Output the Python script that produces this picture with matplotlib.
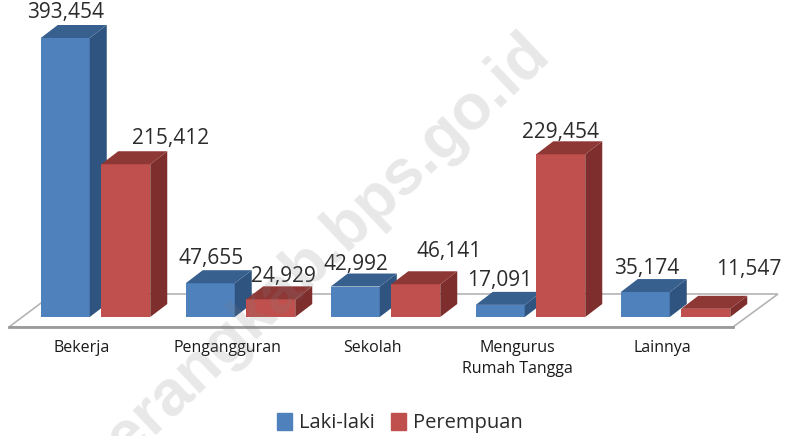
import matplotlib
matplotlib.use('Agg')
import matplotlib.pyplot as plt
from matplotlib.patches import Patch

categories = ['Bekerja', 'Pengangguran', 'Sekolah', 'Mengurus\nRumah Tangga', 'Lainnya']
laki = [393454, 47655, 42992, 17091, 35174]
perempuan = [215412, 24929, 46141, 229454, 11547]

# label shifts in pixels, the labels were moved by hand in the original
laki_shift = [(0, 25), (1, 25), (1, 22), (-1, 24), (1, 24)]
perempuan_shift = [(45, 26), (13, 23), (33, 33), (0, 22), (43, 39)]

plt.rcParams['font.family'] = ['Open Sans', 'DejaVu Sans']

PX_X = 1 / 145           # one category is 145 px wide
PX_Y = 393454 / 279      # value per pixel
W = 49 * PX_X
OFF = 30.25 * PX_X
DX = 17 * PX_X
DY = 13 * PX_Y

fig = plt.figure(figsize=(7.86, 4.36), dpi=100)
ax = fig.add_axes([0, 0, 1, 1])
ax.set_xlim(-95.5 * PX_X, (786 - 95.5) * PX_X)
ax.set_ylim(-119 * PX_Y, 317 * PX_Y)
ax.axis('off')


def fx(px):
    return (px - 95.5) * PX_X


def fy(px):
    return (317 - px) * PX_Y


# floor
ax.fill([fx(9), fx(733), fx(778), fx(53)], [fy(327), fy(327), fy(294), fy(294)],
        facecolor='white', edgecolor='#b4b4b4', lw=1.2, zorder=1)
ax.plot([fx(9), fx(733)], [fy(326.5), fy(326.5)], color='#9a9a9a', lw=2, zorder=1)


def bar3d(x, v, front, side, top, z):
    l = x - W / 2
    r = x + W / 2
    ax.bar(x, v, W, color=front, zorder=z)
    ax.fill([r, r + DX, r + DX, r], [0, DY, v + DY, v], color=side, lw=0, zorder=z)
    ax.fill([l, l + DX, r + DX, r], [v, v + DY, v + DY, v], color=top, lw=0, zorder=z)


def label(x, v, shift):
    ax.annotate(f'{v:,}', (x, v), xytext=(shift[0] * 0.72, shift[1] * 0.72),
                textcoords='offset points', ha='center', va='center',
                fontsize=15, color='#2b2b2b', zorder=10)


for i in range(len(categories)):
    bar3d(i - OFF, laki[i], '#4f81bd', '#2f5480', '#37608f', 3 + 2 * i)
    bar3d(i + OFF, perempuan[i], '#c0504d', '#7e2f2d', '#8e3836', 4 + 2 * i)
    label(i - OFF, laki[i], laki_shift[i])
    label(i + OFF, perempuan[i], perempuan_shift[i])
    ax.text(i - 13.5 * PX_X, fy(340), categories[i], ha='center', va='top',
            fontsize=11.5, color='#1a1a1a', linespacing=1.45, zorder=10)

ax.legend(handles=[Patch(color='#4f81bd', label='Laki-laki'),
                   Patch(color='#c0504d', label='Perempuan')],
          ncol=2, frameon=False, fontsize=14.5, labelcolor='#2b2b2b',
          handlelength=0.75, handleheight=0.95, handletextpad=0.35, columnspacing=0.8,
          loc='center', bbox_to_anchor=(400 / 786, 1 - 423 / 436))

# watermark
ax.text(fx(315), fy(258), 'serangkab.bps.go.id', rotation=43.5, rotation_mode='anchor',
        ha='center', va='center', fontsize=46, fontweight='bold',
        family=['Liberation Sans', 'DejaVu Sans'], color='#808080', alpha=0.18, zorder=20)

fig.savefig('out.png', dpi=100)
